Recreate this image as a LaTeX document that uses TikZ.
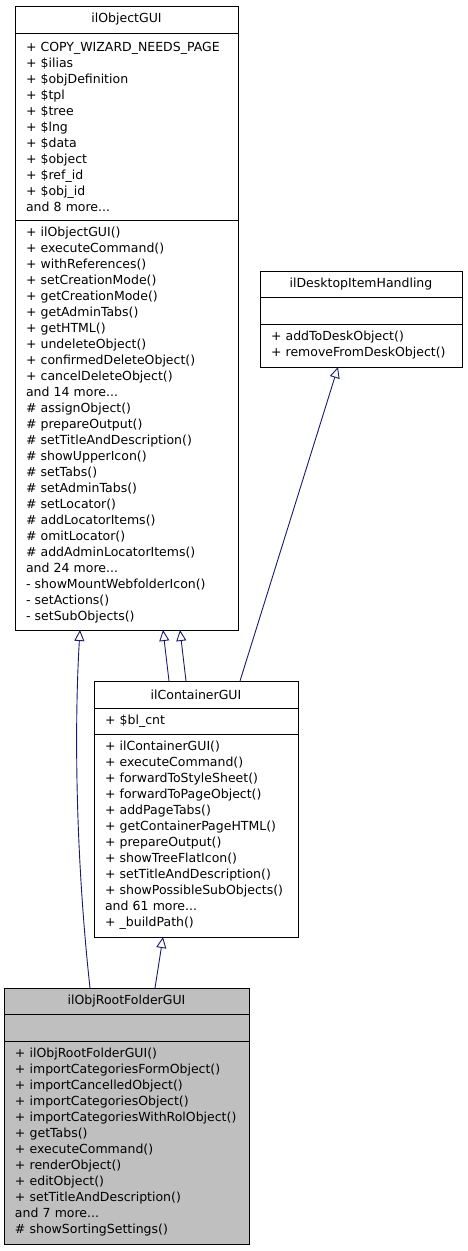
\documentclass[tikz,border=0pt]{standalone}
\usepackage{fontspec}
\setmainfont{DejaVu Sans}
\usetikzlibrary{positioning,arrows.meta}
\hyphenpenalty=10000
\definecolor{edgeblue}{RGB}{25,25,112}
\definecolor{rootgray}{RGB}{191,191,191}
\tikzset{
  classbox/.style={draw=black,line width=1pt,fill=white,inner xsep=11pt,inner ysep=2pt,
    outer sep=0pt,anchor=north,font=\fontsize{12.5}{16}\selectfont},
  classhead/.style={classbox,align=center,minimum height=27pt},
  classpart/.style={classbox,align=left},
  inherit/.style={draw=edgeblue,line width=0.9pt,-{Triangle[open,length=11pt,width=10pt,fill=white]}},
}
\begin{document}
\begin{tikzpicture}[x=1pt,y=-1pt]
\useasboundingbox (0,0) rectangle (467,1251);
% ilObjectGUI
\node (objgui) [classhead,text width=201pt] at (126.5,6) {ilObjectGUI};
\node (objgui-attr) [classpart,text width=201pt,minimum height=187pt,below=0pt of objgui]
  {+ COPY\_WIZARD\_NEEDS\_PAGE\\+ \$ilias\\+ \$objDefinition\\+ \$tpl\\+ \$tree\\+ \$lng\\
   + \$data\\+ \$object\\+ \$ref\_id\\+ \$obj\_id\\and 8 more...};
\node (objgui-ops) [classpart,text width=201pt,minimum height=410pt,below=0pt of objgui-attr]
  {+ ilObjectGUI()\\+ executeCommand()\\+ withReferences()\\+ setCreationMode()\\
   + getCreationMode()\\+ getAdminTabs()\\+ getHTML()\\+ undeleteObject()\\
   + confirmedDeleteObject()\\+ cancelDeleteObject()\\and 14 more...\\
   \# assignObject()\\\# prepareOutput()\\\# setTitleAndDescription()\\\# showUpperIcon()\\
   \# setTabs()\\\# setAdminTabs()\\\# setLocator()\\\# addLocatorItems()\\\# omitLocator()\\
   \# addAdminLocatorItems()\\and 24 more...\\- showMountWebfolderIcon()\\- setActions()\\
   - setSubObjects()};
% ilDesktopItemHandling
\node (desktop) [classhead,text width=180pt,minimum height=26pt] at (361,271) {ilDesktopItemHandling};
\node (desktop-attr) [classpart,text width=180pt,minimum height=27pt,below=0pt of desktop] {};
\node (desktop-ops) [classpart,text width=180pt,minimum height=43pt,below=0pt of desktop-attr]
  {+ addToDeskObject()\\+ removeFromDeskObject()};
% ilContainerGUI
\node (cont) [classhead,text width=182pt] at (196,681) {ilContainerGUI};
\node (cont-attr) [classpart,text width=182pt,minimum height=26pt,below=0pt of cont] {+ \$bl\_cnt};
\node (cont-ops) [classpart,text width=182pt,minimum height=203pt,below=0pt of cont-attr]
  {+ ilContainerGUI()\\+ executeCommand()\\+ forwardToStyleSheet()\\+ forwardToPageObject()\\
   + addPageTabs()\\+ getContainerPageHTML()\\+ prepareOutput()\\+ showTreeFlatIcon()\\
   + setTitleAndDescription()\\+ showPossibleSubObjects()\\and 61 more...\\+ \_buildPath()};
% ilObjRootFolderGUI
\node (root) [classhead,fill=rootgray,text width=223pt,minimum height=26pt] at (126.5,988) {ilObjRootFolderGUI};
\node (root-attr) [classpart,fill=rootgray,text width=223pt,minimum height=27pt,below=0pt of root] {};
\node (root-ops) [classpart,fill=rootgray,text width=223pt,minimum height=203pt,below=0pt of root-attr]
  {+ ilObjRootFolderGUI()\\+ importCategoriesFormObject()\\+ importCancelledObject()\\
   + importCategoriesObject()\\+ importCategoriesWithRolObject()\\+ getTabs()\\
   + executeCommand()\\+ renderObject()\\+ editObject()\\+ setTitleAndDescription()\\
   and 7 more...\\\# showSortingSettings()};

\draw [inherit] ([xshift=86pt]root.north west) .. controls (76,860) and (74,730) .. ([xshift=65pt]objgui-ops.south west);
\draw [inherit] ([xshift=151pt]root.north west) -- ([xshift=69pt]cont-ops.south west);
\draw [inherit] ([xshift=75pt]cont.north west) -- ([xshift=148pt]objgui-ops.south west);
\draw [inherit] ([xshift=92pt]cont.north west) -- ([xshift=165pt]objgui-ops.south west);
\draw [inherit] ([xshift=146pt]cont.north west) -- ([xshift=78pt]desktop-ops.south west);
\end{tikzpicture}
\end{document}
